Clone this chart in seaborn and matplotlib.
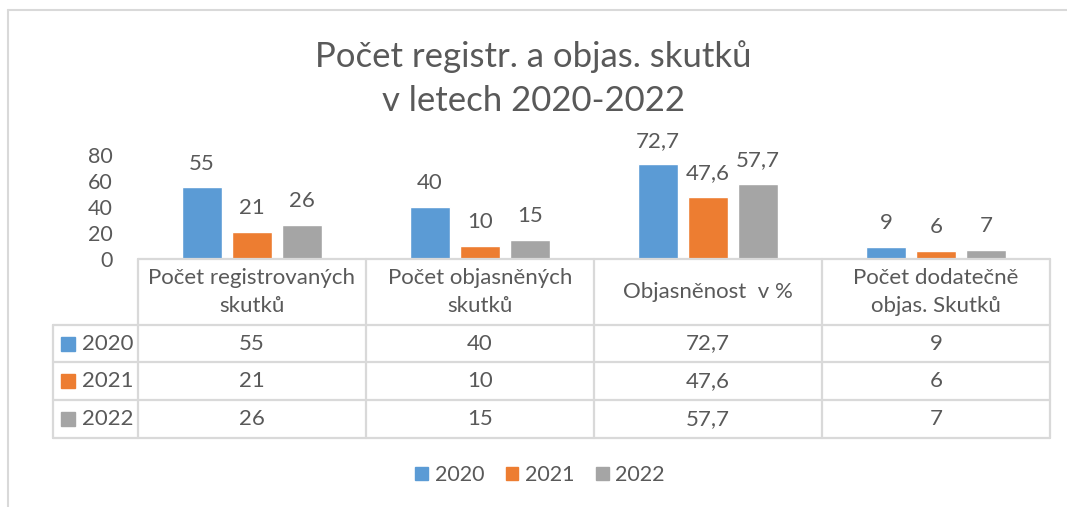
import pandas as pd
import matplotlib.pyplot as plt
import seaborn as sns
from matplotlib.lines import Line2D
from matplotlib.transforms import blended_transform_factory

categories = ['Počet registrovaných\nskutků', 'Počet objasněných\nskutků',
              'Objasněnost  v %', 'Počet dodatečně\nobjas. Skutků']
years = ['2020', '2021', '2022']
values_2020 = [55, 40, 72.7, 9]
values_2021 = [21, 10, 47.6, 6]
values_2022 = [26, 15, 57.7, 7]
y_ticks = [0, 20, 40, 60, 80]

palette = {'2020': '#5B9BD5', '2021': '#ED7D31', '2022': '#A5A5A5'}
text_col = '#595959'
line_col = '#D9D9D9'

series = {'2020': values_2020, '2021': values_2021, '2022': values_2022}
rows = []
for y in years:
    for c, v in zip(categories, series[y]):
        rows.append({'kategorie': c, 'rok': y, 'hodnota': v})
df = pd.DataFrame(rows)

def fmt(v):
    return ('%g' % v).replace('.', ',')

sns.set_theme(style='white')
plt.rcParams['font.family'] = ['Lato', 'DejaVu Sans']

W, H = 1067, 507
fig = plt.figure(figsize=(W / 100, H / 100), dpi=100)
ax = fig.add_axes([138 / W, 1 - 259 / H, 912 / W, 104 / H])

sns.barplot(data=df, x='kategorie', y='hodnota', hue='rok', order=categories,
            hue_order=years, palette=palette, width=0.66, gap=0.2,
            saturation=1, ax=ax, legend=False)

for cont in ax.containers:
    ax.bar_label(cont, labels=[fmt(b.get_height()) for b in cont], padding=10,
                 fontsize=16, color=text_col, clip_on=False)

ax.set_xlim(-0.5, len(categories) - 0.5)
ax.set_ylim(0, 80)
ax.set_yticks(y_ticks)
ax.tick_params(axis='y', length=0, pad=18, labelsize=15.5, labelcolor=text_col)
ax.set_xticks([])
ax.set_xlabel('')
ax.set_ylabel('')
for s in ax.spines.values():
    s.set_visible(False)

# data table under the axis
tr = blended_transform_factory(ax.transData, fig.transFigure)
def fy(py):
    return 1 - py / H

x0, x1 = -0.5, len(categories) - 0.5
row_left = -0.5 - 85 / 228
header_top, header_bot = 259, 325
row_edges = [325, 362, 400, 438]

def hline(xa, xb, py):
    ax.add_line(Line2D([xa, xb], [fy(py), fy(py)], transform=tr, color=line_col,
                       lw=1.6, clip_on=False))

def vline(x, pa, pb):
    ax.add_line(Line2D([x, x], [fy(pa), fy(pb)], transform=tr, color=line_col,
                       lw=1.6, clip_on=False))

hline(x0, x1, header_top)
for py in row_edges:
    hline(row_left, x1, py)
for i in range(len(categories) + 1):
    vline(-0.5 + i, header_top, row_edges[-1])
vline(row_left, row_edges[0], row_edges[-1])

for i, c in enumerate(categories):
    ax.text(i, fy((header_top + header_bot) / 2), c, transform=tr, ha='center',
            va='center', fontsize=16, color=text_col, linespacing=1.55)

for r, y in enumerate(years):
    yc = fy((row_edges[r] + row_edges[r + 1]) / 2)
    ax.plot([-0.5 - 70 / 228], [yc], marker='s', markersize=9.5, color=palette[y],
            transform=tr, clip_on=False)
    ax.text(-0.5 - 56 / 228, yc, y, transform=tr, ha='left', va='center',
            fontsize=16, color=text_col)
    for i, v in enumerate(series[y]):
        ax.text(i, yc, fmt(v), transform=tr, ha='center', va='center',
                fontsize=16, color=text_col)

fig.suptitle('Počet registr. a objas. skutků\nv letech 2020-2022', y=1 - 40 / H,
             fontsize=25, color=text_col, va='top', linespacing=1.45)

handles = [plt.Rectangle((0, 0), 1, 1, color=palette[y]) for y in years]
fig.legend(handles, years, loc='center', bbox_to_anchor=(540 / W, 1 - 475 / H),
           ncol=3, frameon=False, fontsize=15.5, labelcolor=text_col,
           handlelength=0.6, handleheight=0.6, handletextpad=0.3,
           columnspacing=1.0)

# chart border
fig.add_artist(Line2D([8 / W, 1], [1 - 10 / H, 1 - 10 / H], color=line_col, lw=1.5))
fig.add_artist(Line2D([8 / W, 8 / W], [0, 1 - 10 / H], color=line_col, lw=1.5))

fig.savefig('out.png', dpi=100)
